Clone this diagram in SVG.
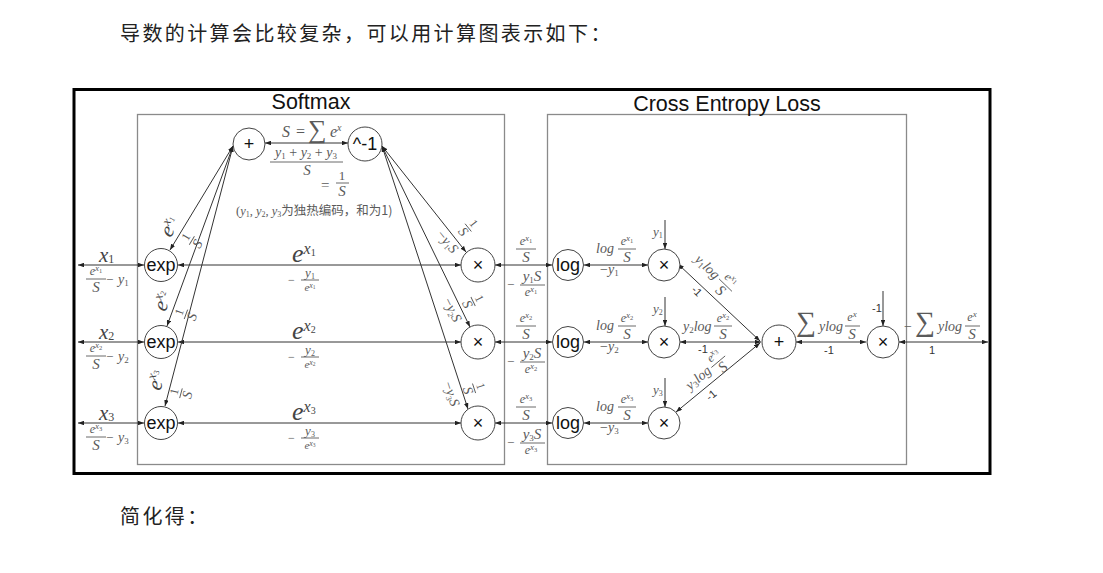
<svg xmlns="http://www.w3.org/2000/svg" width="1103" height="573" viewBox="0 0 1103 573">
<defs>
<marker id="a" viewBox="0 0 8 6" refX="8" refY="3" markerWidth="6" markerHeight="4.5" markerUnits="userSpaceOnUse" orient="auto-start-reverse"><path d="M0,0L8,3L0,6z" fill="#222"/></marker>
<style>
.frame{fill:none;stroke:#000;stroke-width:3}
.box{fill:none;stroke:#8a8a8a;stroke-width:1.3}
.node circle{fill:#fff;stroke:#444;stroke-width:1}
.nl{font-family:"Liberation Sans",Arial,sans-serif;font-size:18px;fill:#111;text-anchor:middle}
.ln line{stroke:#333;stroke-width:1;fill:none}
.d{marker-start:url(#a);marker-end:url(#a)}
.s{marker-end:url(#a)}
.m{font-family:"Liberation Serif","Times New Roman",serif;font-style:italic;fill:#444}
.m tspan{font-style:normal}
.m tspan.it{font-style:italic}
.g{fill:#5a5a5a}
.c{text-anchor:middle}
.n{font-style:normal}
.bar{stroke:#5a5a5a;stroke-width:0.9}
.sn{font-family:"Liberation Sans",Arial,sans-serif;font-size:11px;fill:#333}
.t{font-family:"Noto Sans CJK SC",sans-serif;font-size:20px;fill:#222;letter-spacing:2.4px}
.h{font-family:"Liberation Sans",Arial,sans-serif;font-size:21.5px;fill:#111;text-anchor:middle}
</style>
</defs>
<rect width="1103" height="573" fill="#fff"/>
<text class="t" x="120" y="41">导数的计算会比较复杂，可以用计算图表示如下：</text>
<text class="t" x="120" y="524">简化得：</text>
<rect class="frame" x="74" y="89.5" width="916" height="384"/>
<rect class="box" x="137.5" y="114.5" width="367" height="350"/>
<rect class="box" x="547.5" y="114.5" width="359" height="350"/>
<text class="h" x="311" y="109">Softmax</text>
<text class="h" x="727" y="111">Cross Entropy Loss</text>

<g id="connectors" class="ln">
<line class="d" x1="144" y1="265" x2="78" y2="265"/>
<line class="d" x1="144" y1="342" x2="78" y2="342"/>
<line class="d" x1="144" y1="423" x2="78" y2="423"/>
<line class="d" x1="461" y1="265" x2="178" y2="265"/>
<line class="d" x1="461" y1="342" x2="178" y2="342"/>
<line class="d" x1="461" y1="423" x2="178" y2="423"/>
<line class="d" x1="552" y1="265" x2="495" y2="265"/>
<line class="d" x1="552" y1="342" x2="495" y2="342"/>
<line class="d" x1="552" y1="423" x2="495" y2="423"/>
<line class="d" x1="648" y1="265" x2="584" y2="265"/>
<line class="d" x1="648" y1="342" x2="584" y2="342"/>
<line class="d" x1="648" y1="423" x2="584" y2="423"/>
<line class="s" x1="665" y1="220" x2="665" y2="249"/>
<line class="s" x1="665" y1="297" x2="665" y2="326"/>
<line class="s" x1="665" y1="378" x2="665" y2="407"/>
<line class="d" x1="760" y1="341" x2="678" y2="264"/>
<line class="d" x1="761" y1="342" x2="680" y2="342"/>
<line class="d" x1="760" y1="343" x2="676" y2="412"/>
<line class="d" x1="866" y1="342" x2="796" y2="342"/>
<line class="d" x1="988" y1="342" x2="899" y2="342"/>
<line class="s" x1="883" y1="291" x2="883" y2="326"/>
<line class="d" x1="348" y1="143" x2="265" y2="143"/>
<line class="d" x1="233" y1="146" x2="170" y2="250"/>
<line class="d" x1="233" y1="146" x2="167" y2="326"/>
<line class="d" x1="233" y1="146" x2="165" y2="406"/>
<line class="d" x1="382" y1="146" x2="466" y2="252"/>
<line class="d" x1="382" y1="146" x2="470" y2="327"/>
<line class="d" x1="382" y1="146" x2="468" y2="409"/>
</g>

<g id="n-plus-s" class="node"><circle cx="249" cy="144" r="16"/><text class="nl" x="249" y="150">+</text></g>
<g id="n-inv" class="node"><circle cx="365" cy="144" r="17"/><text class="nl" x="365" y="150">^-1</text></g>
<g id="n-exp1" class="node"><circle cx="161" cy="265" r="16.5"/><text class="nl" x="161" y="271">exp</text></g>
<g id="n-exp2" class="node"><circle cx="161" cy="342" r="16.5"/><text class="nl" x="161" y="348">exp</text></g>
<g id="n-exp3" class="node"><circle cx="161" cy="423" r="16.5"/><text class="nl" x="161" y="429">exp</text></g>
<g id="n-mul1" class="node"><circle cx="478" cy="265" r="17"/><text class="nl" x="478" y="271">×</text></g>
<g id="n-mul2" class="node"><circle cx="478" cy="342" r="17"/><text class="nl" x="478" y="348">×</text></g>
<g id="n-mul3" class="node"><circle cx="478" cy="423" r="17"/><text class="nl" x="478" y="429">×</text></g>
<g id="n-log1" class="node"><circle cx="568" cy="265" r="15.5"/><text class="nl" x="568" y="271">log</text></g>
<g id="n-log2" class="node"><circle cx="568" cy="342" r="15.5"/><text class="nl" x="568" y="348">log</text></g>
<g id="n-log3" class="node"><circle cx="568" cy="423" r="15.5"/><text class="nl" x="568" y="429">log</text></g>
<g id="n-ym1" class="node"><circle cx="664" cy="265" r="16"/><text class="nl" x="664" y="271">×</text></g>
<g id="n-ym2" class="node"><circle cx="664" cy="342" r="16"/><text class="nl" x="664" y="348">×</text></g>
<g id="n-ym3" class="node"><circle cx="664" cy="423" r="16"/><text class="nl" x="664" y="429">×</text></g>
<g id="n-sum" class="node"><circle cx="779" cy="342" r="17"/><text class="nl" x="779" y="348">+</text></g>
<g id="n-neg" class="node"><circle cx="883" cy="342" r="16"/><text class="nl" x="883" y="348">×</text></g>

<g id="labels">
<!-- top -->
<text class="m g" x="282" y="137" font-size="16">S</text>
<text class="m g n" x="296" y="137" font-size="16">=</text>
<text class="m g n" x="308" y="138" font-size="26">∑</text>
<text class="m g" x="330" y="137" font-size="16">e<tspan class="it" font-size="10" dy="-6">x</tspan></text>
<text class="m g c" x="306" y="157" font-size="14">y<tspan font-size="9" dy="2">1</tspan><tspan dy="-2"> + </tspan><tspan class="it">y</tspan><tspan font-size="9" dy="2">2</tspan><tspan dy="-2"> + </tspan><tspan class="it">y</tspan><tspan font-size="9" dy="2">3</tspan></text>
<line class="bar" x1="270" y1="162" x2="343" y2="162"/>
<text class="m g c" x="307" y="175" font-size="15">S</text>
<text class="m g n" x="321" y="190" font-size="15">=</text>
<text class="m g n c" x="342" y="180" font-size="13">1</text>
<line class="bar" x1="336" y1="183" x2="349" y2="183"/>
<text class="m g c" x="342" y="196" font-size="15">S</text>
<text class="m g n" x="236" y="215" font-size="12.5">(<tspan class="it">y</tspan><tspan font-size="8" dy="2">1</tspan><tspan dy="-2">, </tspan><tspan class="it">y</tspan><tspan font-size="8" dy="2">2</tspan><tspan dy="-2">, </tspan><tspan class="it">y</tspan><tspan font-size="8" dy="2">3</tspan><tspan dy="-2" font-family="Noto Sans CJK SC,sans-serif">为独热编码，和为1)</tspan></text>

<!-- left diagonal labels -->
<g transform="translate(172,228) rotate(-59)"><text class="m c" font-size="21" y="4">e<tspan class="it" font-size="13" dy="-8">x</tspan><tspan font-size="8" dy="2">1</tspan></text></g>
<g transform="translate(191,240) rotate(-59)"><text class="m g n c" font-size="12" y="-2">1</text><line class="bar" x1="-5" y1="1" x2="5" y2="1"/><text class="m g c" font-size="14" y="12">S</text></g>
<g transform="translate(165,302) rotate(-70)"><text class="m c" font-size="21" y="4">e<tspan class="it" font-size="13" dy="-8">x</tspan><tspan font-size="8" dy="2">2</tspan></text></g>
<g transform="translate(185,314) rotate(-70)"><text class="m g n c" font-size="12" y="-2">1</text><line class="bar" x1="-5" y1="1" x2="5" y2="1"/><text class="m g c" font-size="14" y="12">S</text></g>
<g transform="translate(159,381) rotate(-75)"><text class="m c" font-size="21" y="4">e<tspan class="it" font-size="13" dy="-8">x</tspan><tspan font-size="8" dy="2">3</tspan></text></g>
<g transform="translate(180,393) rotate(-75)"><text class="m g n c" font-size="12" y="-2">1</text><line class="bar" x1="-5" y1="1" x2="5" y2="1"/><text class="m g c" font-size="14" y="12">S</text></g>

<!-- right diagonal labels (^-1) -->
<g transform="translate(469,227) rotate(51)"><text class="m g n c" font-size="12" y="-2">1</text><line class="bar" x1="-5" y1="1" x2="5" y2="1"/><text class="m g c" font-size="14" y="12">S</text></g>
<g transform="translate(447,242) rotate(51)"><text class="m g c" font-size="14" y="4"><tspan>−</tspan><tspan class="it">y</tspan><tspan font-size="8" dy="2">1</tspan><tspan class="it" dy="-2">S</tspan></text></g>
<g transform="translate(474,301) rotate(64)"><text class="m g n c" font-size="12" y="-2">1</text><line class="bar" x1="-5" y1="1" x2="5" y2="1"/><text class="m g c" font-size="14" y="12">S</text></g>
<g transform="translate(452,310) rotate(64)"><text class="m g c" font-size="14" y="4"><tspan>−</tspan><tspan class="it">y</tspan><tspan font-size="8" dy="2">2</tspan><tspan class="it" dy="-2">S</tspan></text></g>
<g transform="translate(475,388) rotate(72)"><text class="m g n c" font-size="12" y="-2">1</text><line class="bar" x1="-5" y1="1" x2="5" y2="1"/><text class="m g c" font-size="14" y="12">S</text></g>
<g transform="translate(451,394) rotate(72)"><text class="m g c" font-size="14" y="4"><tspan>−</tspan><tspan class="it">y</tspan><tspan font-size="8" dy="2">3</tspan><tspan class="it" dy="-2">S</tspan></text></g>

<!-- rows -->
<g id="row1">
<text class="m" x="99" y="262" font-size="21">x<tspan font-size="12" dy="1">1</tspan></text>
<text class="m g c" x="96" y="275" font-size="12">e<tspan class="it" font-size="9" dy="-4">x</tspan><tspan font-size="6.5" dy="1.5">1</tspan></text>
<line class="bar" x1="86" y1="279" x2="106" y2="279"/>
<text class="m g c" x="96" y="292" font-size="15">S</text>
<text class="m g n" x="106" y="284" font-size="13">−</text>
<text class="m g" x="118" y="284" font-size="14">y<tspan font-size="9" dy="2">1</tspan></text>
<text class="m" x="292" y="262" font-size="26">e<tspan class="it" font-size="16" dy="-8">x</tspan><tspan font-size="10" dy="2">1</tspan></text>
<text class="m g n" x="288" y="284" font-size="12">−</text>
<text class="m g c" x="310" y="277" font-size="13">y<tspan font-size="8" dy="2">1</tspan></text>
<line class="bar" x1="301" y1="280" x2="319" y2="280"/>
<text class="m g c" x="310" y="291" font-size="11">e<tspan class="it" font-size="8" dy="-3.5">x</tspan><tspan font-size="5.5" dy="1">1</tspan></text>
<text class="m g c" x="526" y="245" font-size="12">e<tspan class="it" font-size="9" dy="-4">x</tspan><tspan font-size="6.5" dy="1.5">1</tspan></text>
<line class="bar" x1="516" y1="249" x2="536" y2="249"/>
<text class="m g c" x="526" y="262" font-size="15">S</text>
<text class="m g n" x="507" y="289" font-size="13">−</text>
<text class="m g c" x="532" y="281" font-size="15">y<tspan font-size="9" dy="2">1</tspan><tspan class="it" dy="-2">S</tspan></text>
<line class="bar" x1="520" y1="285" x2="545" y2="285"/>
<text class="m g c" x="531" y="296" font-size="12">e<tspan class="it" font-size="9" dy="-4">x</tspan><tspan font-size="6.5" dy="1.5">1</tspan></text>
<text class="m g" x="596" y="253" font-size="14">log</text>
<text class="m g c" x="627" y="245" font-size="12">e<tspan class="it" font-size="9" dy="-4">x</tspan><tspan font-size="6.5" dy="1.5">1</tspan></text>
<line class="bar" x1="618" y1="249" x2="636" y2="249"/>
<text class="m g c" x="627" y="262" font-size="15">S</text>
<text class="m g" x="600" y="274" font-size="14"><tspan>−</tspan><tspan class="it">y</tspan><tspan font-size="9" dy="2">1</tspan></text>
<text class="m g" x="653" y="236" font-size="13">y<tspan font-size="8" dy="2">1</tspan></text>
<g transform="translate(714,274) rotate(44)"><text class="m g" x="-24" y="4" font-size="14">y<tspan font-size="9" dy="2">1</tspan><tspan class="it" dy="-2">log</tspan></text><text class="m g c" x="16" y="-4" font-size="12">e<tspan class="it" font-size="9" dy="-4">x</tspan><tspan font-size="6.5" dy="1.5">1</tspan></text><line class="bar" x1="7" y1="0" x2="25" y2="0"/><text class="m g c" x="16" y="12" font-size="15">S</text></g>
<g transform="translate(697,291) rotate(44)"><text class="sn" text-anchor="middle" y="4">-1</text></g>
</g>

<g id="row2">
<text class="m" x="99" y="339" font-size="21">x<tspan font-size="12" dy="1">2</tspan></text>
<text class="m g c" x="96" y="352" font-size="12">e<tspan class="it" font-size="9" dy="-4">x</tspan><tspan font-size="6.5" dy="1.5">2</tspan></text>
<line class="bar" x1="86" y1="356" x2="106" y2="356"/>
<text class="m g c" x="96" y="369" font-size="15">S</text>
<text class="m g n" x="106" y="361" font-size="13">−</text>
<text class="m g" x="118" y="361" font-size="14">y<tspan font-size="9" dy="2">2</tspan></text>
<text class="m" x="292" y="339" font-size="26">e<tspan class="it" font-size="16" dy="-8">x</tspan><tspan font-size="10" dy="2">2</tspan></text>
<text class="m g n" x="288" y="361" font-size="12">−</text>
<text class="m g c" x="310" y="354" font-size="13">y<tspan font-size="8" dy="2">2</tspan></text>
<line class="bar" x1="301" y1="357" x2="319" y2="357"/>
<text class="m g c" x="310" y="368" font-size="11">e<tspan class="it" font-size="8" dy="-3.5">x</tspan><tspan font-size="5.5" dy="1">2</tspan></text>
<text class="m g c" x="526" y="322" font-size="12">e<tspan class="it" font-size="9" dy="-4">x</tspan><tspan font-size="6.5" dy="1.5">2</tspan></text>
<line class="bar" x1="516" y1="326" x2="536" y2="326"/>
<text class="m g c" x="526" y="339" font-size="15">S</text>
<text class="m g n" x="507" y="366" font-size="13">−</text>
<text class="m g c" x="532" y="358" font-size="15">y<tspan font-size="9" dy="2">2</tspan><tspan class="it" dy="-2">S</tspan></text>
<line class="bar" x1="520" y1="362" x2="545" y2="362"/>
<text class="m g c" x="531" y="373" font-size="12">e<tspan class="it" font-size="9" dy="-4">x</tspan><tspan font-size="6.5" dy="1.5">2</tspan></text>
<text class="m g" x="596" y="330" font-size="14">log</text>
<text class="m g c" x="627" y="322" font-size="12">e<tspan class="it" font-size="9" dy="-4">x</tspan><tspan font-size="6.5" dy="1.5">2</tspan></text>
<line class="bar" x1="618" y1="326" x2="636" y2="326"/>
<text class="m g c" x="627" y="339" font-size="15">S</text>
<text class="m g" x="600" y="351" font-size="14"><tspan>−</tspan><tspan class="it">y</tspan><tspan font-size="9" dy="2">2</tspan></text>
<text class="m g" x="653" y="313" font-size="13">y<tspan font-size="8" dy="2">2</tspan></text>
<text class="m g" x="683" y="331" font-size="14">y<tspan font-size="9" dy="2">2</tspan><tspan class="it" dy="-2">log</tspan></text>
<text class="m g c" x="723" y="322" font-size="12">e<tspan class="it" font-size="9" dy="-4">x</tspan><tspan font-size="6.5" dy="1.5">2</tspan></text>
<line class="bar" x1="714" y1="326" x2="732" y2="326"/>
<text class="m g c" x="723" y="339" font-size="15">S</text>
<text class="sn" x="703" y="353" text-anchor="middle">-1</text>
</g>

<g id="row3">
<text class="m" x="99" y="420" font-size="21">x<tspan font-size="12" dy="1">3</tspan></text>
<text class="m g c" x="96" y="433" font-size="12">e<tspan class="it" font-size="9" dy="-4">x</tspan><tspan font-size="6.5" dy="1.5">3</tspan></text>
<line class="bar" x1="86" y1="437" x2="106" y2="437"/>
<text class="m g c" x="96" y="450" font-size="15">S</text>
<text class="m g n" x="106" y="442" font-size="13">−</text>
<text class="m g" x="118" y="442" font-size="14">y<tspan font-size="9" dy="2">3</tspan></text>
<text class="m" x="292" y="420" font-size="26">e<tspan class="it" font-size="16" dy="-8">x</tspan><tspan font-size="10" dy="2">3</tspan></text>
<text class="m g n" x="288" y="442" font-size="12">−</text>
<text class="m g c" x="310" y="435" font-size="13">y<tspan font-size="8" dy="2">3</tspan></text>
<line class="bar" x1="301" y1="438" x2="319" y2="438"/>
<text class="m g c" x="310" y="449" font-size="11">e<tspan class="it" font-size="8" dy="-3.5">x</tspan><tspan font-size="5.5" dy="1">3</tspan></text>
<text class="m g c" x="526" y="403" font-size="12">e<tspan class="it" font-size="9" dy="-4">x</tspan><tspan font-size="6.5" dy="1.5">3</tspan></text>
<line class="bar" x1="516" y1="407" x2="536" y2="407"/>
<text class="m g c" x="526" y="420" font-size="15">S</text>
<text class="m g n" x="507" y="447" font-size="13">−</text>
<text class="m g c" x="532" y="439" font-size="15">y<tspan font-size="9" dy="2">3</tspan><tspan class="it" dy="-2">S</tspan></text>
<line class="bar" x1="520" y1="443" x2="545" y2="443"/>
<text class="m g c" x="531" y="454" font-size="12">e<tspan class="it" font-size="9" dy="-4">x</tspan><tspan font-size="6.5" dy="1.5">3</tspan></text>
<text class="m g" x="596" y="411" font-size="14">log</text>
<text class="m g c" x="627" y="403" font-size="12">e<tspan class="it" font-size="9" dy="-4">x</tspan><tspan font-size="6.5" dy="1.5">3</tspan></text>
<line class="bar" x1="618" y1="407" x2="636" y2="407"/>
<text class="m g c" x="627" y="420" font-size="15">S</text>
<text class="m g" x="600" y="432" font-size="14"><tspan>−</tspan><tspan class="it">y</tspan><tspan font-size="9" dy="2">3</tspan></text>
<text class="m g" x="653" y="394" font-size="13">y<tspan font-size="8" dy="2">3</tspan></text>
<g transform="translate(706,372) rotate(-40)"><text class="m g" x="-24" y="4" font-size="14">y<tspan font-size="9" dy="2">3</tspan><tspan class="it" dy="-2">log</tspan></text><text class="m g c" x="16" y="-4" font-size="12">e<tspan class="it" font-size="9" dy="-4">x</tspan><tspan font-size="6.5" dy="1.5">3</tspan></text><line class="bar" x1="7" y1="0" x2="25" y2="0"/><text class="m g c" x="16" y="12" font-size="15">S</text></g>
<g transform="translate(711,395) rotate(-40)"><text class="sn" text-anchor="middle" y="4">-1</text></g>
</g>

<!-- final -->
<text class="m g n" x="796" y="331" font-size="28">∑</text>
<text class="m g" x="819" y="331" font-size="14">ylog</text>
<text class="m g c" x="852" y="321" font-size="12">e<tspan class="it" font-size="9" dy="-4">x</tspan></text>
<line class="bar" x1="845" y1="326" x2="860" y2="326"/>
<text class="m g c" x="852" y="339" font-size="15">S</text>
<text class="sn" x="829" y="354" text-anchor="middle">-1</text>
<text class="sn" x="877" y="312" text-anchor="middle">-1</text>
<text class="m g n" x="904" y="331" font-size="14">−</text>
<text class="m g n" x="915" y="331" font-size="28">∑</text>
<text class="m g" x="938" y="331" font-size="14">ylog</text>
<text class="m g c" x="972" y="321" font-size="12">e<tspan class="it" font-size="9" dy="-4">x</tspan></text>
<line class="bar" x1="965" y1="326" x2="980" y2="326"/>
<text class="m g c" x="972" y="339" font-size="15">S</text>
<text class="sn" x="932" y="354" text-anchor="middle">1</text>
</g>
</svg>
